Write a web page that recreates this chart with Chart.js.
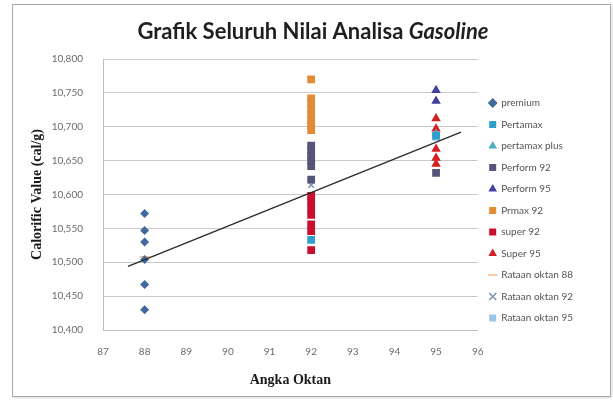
<!DOCTYPE html>
<html>
<head>
<meta charset="utf-8">
<script src="https://cdn.jsdelivr.net/npm/chart.js@4.4.1/dist/chart.umd.min.js"></script>
<style>
	html, body { margin: 0; padding: 0; background: #fff; }
	body { width: 613px; height: 401px; position: relative; overflow: hidden; }
	#frame {
		position: absolute; left: 12px; top: 4px; width: 597px; height: 391px;
		border: 1px solid #a8a8a8; box-shadow: 1px 1px 2px rgba(0, 0, 0, 0.15);
	}
	#chart { position: absolute; left: 0; top: 0; }
</style>
</head>
<body>
<div id="frame"></div>
<canvas id="chart" width="613" height="401"></canvas>
<script>
// ----------------------------------------------
// Data (octane number / calorific value, cal/g)
// ----------------------------------------------
const TITLE_MAIN = "Grafik Seluruh Nilai Analisa ";
const TITLE_ITALIC = "Gasoline";
const X_TITLE = "Angka Oktan";
const Y_TITLE = "Calorific Value (cal/g)";

const premiumX = [88, 88, 88, 88, 88, 88];
const premiumY = [10572, 10547, 10530, 10504, 10467, 10430];

const pertamaxX = [92, 95];
const pertamaxY = [10533, 10687];

const pertamaxPlusX = [95];
const pertamaxPlusY = [10690];

const perform92X = [92, 92, 92, 92, 92, 92, 95];
const perform92Y = [10672, 10665, 10657, 10650, 10642, 10622, 10632];

const perform95X = [95, 95];
const perform95Y = [10754, 10738];

const primax92X = [92, 92, 92, 92, 92, 92, 92, 92];
const primax92Y = [10770, 10742, 10735, 10727, 10718, 10710, 10702, 10695];

const super92X = [92, 92, 92, 92, 92, 92, 92];
const super92Y = [10598, 10590, 10580, 10570, 10556, 10546, 10518];

const super95X = [95, 95, 95, 95, 95];
const super95Y = [10712, 10697, 10667, 10654, 10645];

const avg88X = [88];
const avg88Y = [10508];
const avg92X = [92];
const avg92Y = [10614];
const avg95X = [95];
const avg95Y = [10685];

// linear trend line end points
const trendX = [87.6, 95.6];
const trendY = [10494, 10692];

const X_MIN = 87, X_MAX = 96, Y_MIN = 10400, Y_MAX = 10800, Y_STEP = 50;

const pts = (xs, ys) => xs.map((x, i) => ({ x, y: ys[i] }));

const GRID_COLOR = "#c9c9c9";
const TICK_COLOR = "#6b6b6b";
const TICK_FONT = { family: "Lato", size: 10 };
const AXIS_TITLE_FONT = { family: "Liberation Serif", size: 14, weight: "bold" };

const series = (label, xs, ys, style, color, radius, extra) => ({
	label,
	data: pts(xs, ys),
	pointStyle: style,
	backgroundColor: color,
	borderColor: color,
	borderWidth: 0,
	pointRadius: radius,
	pointHoverRadius: radius,
	showLine: false,
	...extra,
});

// Title with italic last word, drawn on the canvas
const mixedTitle = {
	id: "mixedTitle",
	afterDraw(chart) {
		const ctx = chart.ctx;
		ctx.save();
		ctx.font = "bold 22px Lato";
		const wa = ctx.measureText(TITLE_MAIN).width;
		ctx.font = "italic bold 22px Lato";
		const wb = ctx.measureText(TITLE_ITALIC).width;
		const x = 313 - (wa + wb) / 2;
		ctx.textBaseline = "middle";
		ctx.fillStyle = "#1f1f1f";
		ctx.font = "bold 22px Lato";
		ctx.fillText(TITLE_MAIN, x, 32);
		ctx.font = "italic bold 22px Lato";
		ctx.fillText(TITLE_ITALIC, x + wa, 32);
		ctx.restore();
	},
};

new Chart(document.getElementById("chart"), {
	type: "scatter",
	data: {
		datasets: [
			{
				label: "trend",
				type: "line",
				data: pts(trendX, trendY),
				borderColor: "#2a2a2a",
				borderWidth: 1.3,
				pointRadius: 0,
				order: -1,
			},
			series("premium", premiumX, premiumY, "rectRot", "#40699c", 4.5),
			series("Pertamax", pertamaxX, pertamaxY, "rect", "#2e9fcb", 5.5),
			series("pertamax plus", pertamaxPlusX, pertamaxPlusY, "triangle", "#4bacc6", 5),
			series("Perform 92", perform92X, perform92Y, "rect", "#55557a", 5.5),
			series("Perform 95", perform95X, perform95Y, "triangle", "#3f3f9f", 5.5),
			series("Prmax 92", primax92X, primax92Y, "rect", "#e38a35", 5.5),
			series("super 92", super92X, super92Y, "rect", "#c8102e", 5.5),
			series("Super 95", super95X, super95Y, "triangle", "#d42020", 5.5),
			series("Rataan oktan 88", avg88X, avg88Y, "line", "#f7b98b", 5, { borderWidth: 1.5 }),
			series("Rataan oktan 92", avg92X, avg92Y, "crossRot", "#8090b0", 4, { borderWidth: 1.5 }),
			series("Rataan oktan 95", avg95X, avg95Y, "rect", "#9dc3e6", 5.5),
		],
	},
	options: {
		responsive: false,
		animation: false,
		layout: {
			padding: { left: 26, top: 59, bottom: 12, right: 30 },
		},
		plugins: {
			title: { display: false },
			tooltip: { enabled: false },
			legend: {
				position: "right",
				align: "start",
				// empty title only pushes the list down
				title: { display: true, text: "", font: { size: 10 }, padding: { top: 15.5, bottom: 0 } },
				labels: {
					usePointStyle: true,
					boxWidth: 7,
					boxHeight: 7,
					padding: 11.5,
					color: "#555",
					font: { family: "Lato", size: 10 },
					filter: (item) => item.text !== "trend",
				},
			},
		},
		scales: {
			x: {
				type: "linear",
				min: X_MIN,
				max: X_MAX,
				border: { display: true, color: "#bdbdbd" },
				grid: { display: false, drawTicks: false },
				ticks: { stepSize: 1, padding: 16, color: TICK_COLOR, font: TICK_FONT },
				title: { display: true, text: X_TITLE, color: "#1a1a1a", font: AXIS_TITLE_FONT, padding: 0 },
				afterFit: (scale) => { scale.height = 59; },
			},
			y: {
				min: Y_MIN,
				max: Y_MAX,
				border: { display: true, color: "#bdbdbd" },
				grid: { color: GRID_COLOR, drawTicks: false },
				ticks: {
					stepSize: Y_STEP,
					padding: 20,
					color: TICK_COLOR,
					font: TICK_FONT,
					callback: (v) => v.toLocaleString("en-US"),
				},
				title: { display: true, text: Y_TITLE, color: "#1a1a1a", font: AXIS_TITLE_FONT, padding: { top: 3, bottom: 0 } },
				afterFit: (scale) => { scale.width = 77; },
			},
		},
	},
	plugins: [mixedTitle],
});
</script>
</body>
</html>
